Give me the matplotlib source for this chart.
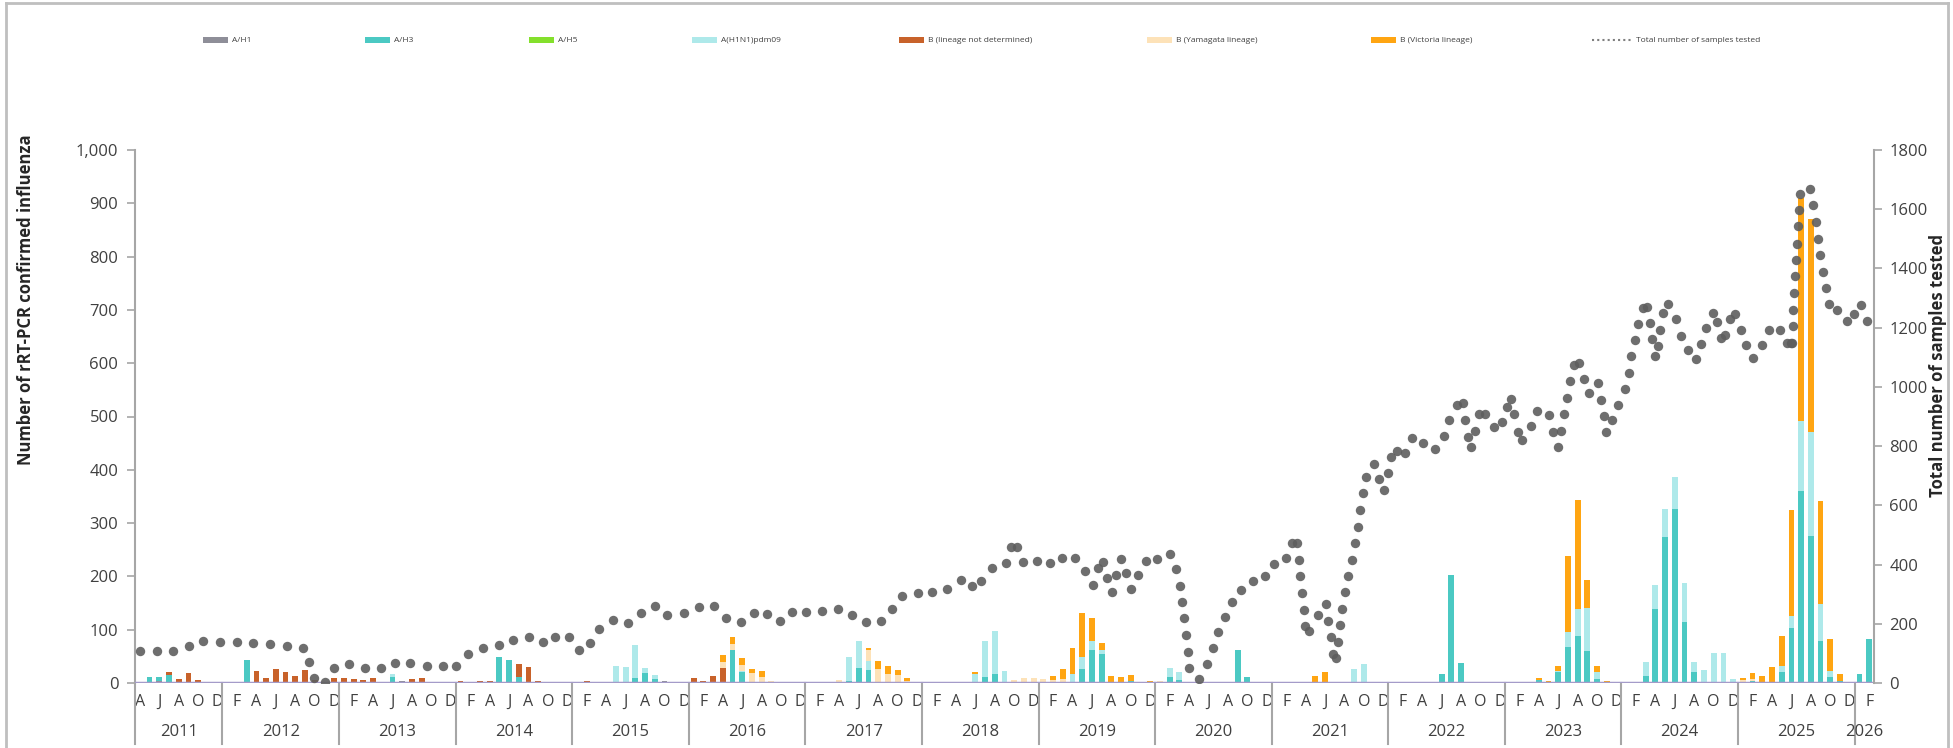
import numpy as np
import pandas as pd
import matplotlib.pyplot as plt
import matplotlib.transforms as mtransforms
from matplotlib.patches import Rectangle
from matplotlib.lines import Line2D

plt.rcParams['font.family'] = ['Open Sans', 'DejaVu Sans']

# monthly categories on the x axis
months = pd.period_range('2011-04', '2026-02', freq='M')

# confirmed influenza per month, by subtype (months not listed are 0)
a_h1 = {'2011-06': 3, '2013-07': 3, '2013-10': 1, '2013-11': 1, '2014-05': 2, '2014-06': 2,
        '2015-04': 2, '2015-10': 4}
a_h3 = {'2011-05': 12, '2011-06': 8, '2011-07': 15, '2012-03': 43, '2013-06': 12,
        '2014-05': 46, '2014-06': 41, '2014-07': 11, '2015-05': 1, '2015-07': 10, '2015-08': 18,
        '2015-09': 8, '2016-04': 2, '2016-05': 61, '2016-06': 20, '2017-05': 3, '2017-06': 28,
        '2017-07': 24, '2018-06': 1, '2018-07': 12, '2018-08': 17, '2019-05': 26, '2019-06': 62,
        '2019-07': 54, '2019-08': 2, '2019-10': 3, '2020-02': 11, '2020-03': 6, '2020-09': 62,
        '2020-10': 12, '2021-10': 1, '2022-06': 17, '2022-07': 203, '2022-08': 38,
        '2023-04': 5, '2023-06': 20, '2023-07': 68, '2023-08': 88, '2023-09': 60, '2023-10': 7,
        '2024-03': 14, '2024-04': 139, '2024-05': 274, '2024-06': 327, '2024-07': 114,
        '2024-08': 21, '2025-02': 3, '2025-04': 2, '2025-05': 21, '2025-06': 104,
        '2025-07': 360, '2025-08': 275, '2025-09': 78, '2025-10': 12, '2025-11': 3,
        '2026-01': 16, '2026-02': 83}
a_h5 = {}
a_pdm09 = {'2013-06': 5, '2015-05': 30, '2015-06': 30, '2015-07': 61, '2015-08': 11,
           '2015-09': 7, '2016-06': 3, '2017-05': 45, '2017-06': 51, '2017-07': 18,
           '2018-06': 16, '2018-07': 67, '2018-08': 81, '2018-09': 22, '2019-04': 16,
           '2019-05': 22, '2019-06': 17, '2019-07': 7, '2020-02': 18, '2020-03': 14,
           '2021-09': 27, '2021-10': 34, '2023-06': 3, '2023-07': 27, '2023-08': 50,
           '2023-09': 80, '2023-10': 14, '2024-03': 25, '2024-04': 45, '2024-05': 53,
           '2024-06': 60, '2024-07': 73, '2024-08': 18, '2024-09': 25, '2024-10': 57,
           '2024-11': 57, '2024-12': 7, '2025-05': 10, '2025-06': 21, '2025-07': 131,
           '2025-08': 195, '2025-09': 70, '2025-10': 10}
b_nd = {'2011-07': 5, '2011-08': 8, '2011-09': 18, '2011-10': 6, '2011-11': 1,
        '2012-04': 23, '2012-05': 9, '2012-06': 26, '2012-07': 21, '2012-08': 14, '2012-09': 25,
        '2012-10': 5, '2012-12': 10, '2013-01': 10, '2013-02': 8, '2013-03': 6, '2013-04': 10,
        '2013-05': 1, '2013-08': 7, '2013-09': 9, '2014-01': 4, '2014-03': 3, '2014-04': 3,
        '2014-07': 24, '2014-08': 30, '2014-09': 4, '2015-02': 4, '2016-01': 9, '2016-02': 4,
        '2016-03': 13, '2016-04': 26}
b_yam = {'2016-04': 12, '2016-05': 13, '2016-06': 10, '2016-07': 18, '2016-08': 12,
         '2016-09': 3, '2017-04': 5, '2017-07': 19, '2017-08': 27, '2017-09': 17, '2017-10': 15,
         '2017-11': 4, '2018-10': 6, '2018-11': 9, '2018-12': 9, '2019-01': 8, '2019-02': 5,
         '2019-03': 7, '2019-12': 2, '2020-01': 3, '2025-01': 5, '2025-02': 5}
b_vic = {'2016-04': 12, '2016-05': 12, '2016-06': 14, '2016-07': 8, '2016-08': 10,
         '2017-07': 5, '2017-08': 14, '2017-09': 14, '2017-10': 9, '2017-11': 6, '2018-06': 3,
         '2019-02': 9, '2019-03': 20, '2019-04': 50, '2019-05': 83, '2019-06': 43, '2019-07': 14,
         '2019-08': 12, '2019-09': 12, '2019-10': 12, '2019-12': 2, '2021-05': 14, '2021-06': 20,
         '2023-03': 2, '2023-04': 5, '2023-05': 3, '2023-06': 8, '2023-07': 143, '2023-08': 206,
         '2023-09': 54, '2023-10': 10, '2023-11': 3, '2025-01': 5, '2025-02': 10, '2025-03': 14,
         '2025-04': 28, '2025-05': 58, '2025-06': 200, '2025-07': 419, '2025-08': 400,
         '2025-09': 194, '2025-10': 61, '2025-11': 14}

# total samples tested (time in months counted from Apr 2011, right axis)
tested_t = [0.0, 1.73, 3.45, 5.09, 6.53, 8.25, 9.96, 11.68, 13.39, 15.11, 16.83, 17.41, 17.89,
            19.09, 19.95, 21.56, 23.14, 24.79, 26.23, 27.84, 29.56, 31.21, 32.58, 33.75, 35.29,
            36.94, 38.45, 40.03, 41.54, 42.70, 44.14, 45.21, 46.38,
            47.26, 48.70, 50.21, 51.58, 53.06, 54.29, 56.01, 57.52, 59.13, 60.30, 61.84, 63.25,
            64.52, 65.89, 67.16, 68.60, 70.22, 71.83, 73.27, 74.74, 76.29, 77.42, 78.48, 80.06,
            81.57, 83.05, 84.52, 85.66, 86.62, 87.75, 89.16, 89.70, 90.32, 90.90, 92.31,
            93.68, 94.89, 96.29, 97.25, 98.08, 98.59, 99.14, 99.59, 100.07, 100.51, 100.99,
            101.51, 101.99, 102.74, 103.60, 104.73, 106.00, 106.62, 107.07, 107.27, 107.44,
            107.65, 107.86, 107.99, 109.06, 109.88, 110.46, 111.01, 111.73, 112.45, 113.38,
            114.58, 115.85, 116.71, 117.98, 118.59, 119.11, 119.28, 119.45, 119.62, 119.80,
            119.90, 120.35, 121.27, 122.10, 122.33, 122.61, 122.85, 123.09, 123.33, 123.54,
            123.78, 124.02, 124.39, 124.81, 125.11, 125.35, 125.59, 125.87, 126.21, 127.07,
            127.58, 128.06, 128.44, 128.82, 129.40, 130.26, 130.95, 132.08, 133.28, 134.24, 134.79,
            135.54, 136.16, 136.44, 136.74, 137.02, 137.40, 137.88, 138.42, 139.39, 140.17,
            140.69, 141.10, 141.44, 141.82, 142.27, 143.23, 143.85, 145.05, 145.49, 145.94,
            146.32, 146.56, 146.87, 147.21, 147.62, 148.17, 148.65, 149.16, 150.06, 150.37,
            150.67, 150.95, 151.53, 152.15, 152.84, 153.25, 153.52, 153.87, 154.21, 154.69,
            155.10, 155.41, 155.68, 155.99, 156.27, 156.51, 156.82, 157.33, 158.12, 158.63,
            159.39, 160.14, 160.69, 161.24, 161.93, 162.34, 162.79, 163.16, 163.71, 164.19,
            164.78, 165.36, 166.01, 166.94, 167.69, 168.83, 169.51, 169.92, 170.06, 170.13,
            170.20, 170.30, 170.40, 170.47, 170.61, 170.71, 170.78, 170.92, 171.91, 172.26,
            172.50, 172.74, 172.94, 173.28, 173.56, 173.87, 174.73, 175.72, 176.48, 177.16, 177.75]
tested_n = [109, 109, 109, 124, 143, 139, 139, 136, 131, 124, 119, 71, 16,
            4, 52, 64, 51, 51, 67, 67, 59, 56, 56, 97, 119,
            128, 144, 157, 140, 156, 156, 113, 136,
            183, 212, 201, 235, 261, 231, 236, 257, 260, 219, 205, 237,
            233, 209, 241, 239, 243, 249, 228, 205, 208, 249, 293, 304,
            309, 319, 349, 328, 344, 387, 405, 459, 459, 407, 413,
            405, 423, 423, 377, 332, 387, 409, 355, 309, 364, 419,
            372, 319, 364, 413, 419, 437, 385, 329, 275, 219,
            163, 105, 49, 15, 65, 119, 173, 224, 275, 315,
            344, 360, 401, 421, 472, 472, 416, 360, 304, 248,
            192, 177, 228, 267, 211, 155, 99, 83, 139, 195,
            251, 307, 361, 416, 472, 528, 584, 640, 695, 741,
            688, 653, 708, 763, 783, 776, 828, 812, 789, 835, 888,
            940, 944, 889, 832, 797, 851, 908, 909, 865, 880,
            933, 960, 907, 849, 820, 867, 919, 904, 847, 796,
            851, 907, 963, 1019, 1073, 1079, 1025, 981, 1013, 957,
            903, 847, 889, 940, 992, 1048, 1104, 1159, 1212, 1267,
            1269, 1215, 1161, 1103, 1139, 1193, 1251, 1279, 1229, 1173,
            1123, 1093, 1145, 1199, 1251, 1219, 1165, 1176, 1229, 1245,
            1193, 1140, 1096, 1141, 1193, 1193, 1147, 1147, 1149, 1205,
            1260, 1317, 1373, 1429, 1484, 1543, 1599, 1653, 1667, 1613,
            1556, 1500, 1444, 1389, 1333, 1279, 1261, 1223, 1245, 1276, 1221]

series_names = ['A/H1', 'A/H3', 'A/H5', 'A(H1N1)pdm09', 'B (lineage not determined)',
                'B (Yamagata lineage)', 'B (Victoria lineage)']
series_data = [a_h1, a_h3, a_h5, a_pdm09, b_nd, b_yam, b_vic]
series_colors = ['#8e8e98', '#4bc9c3', '#84e02c', '#aee9ea', '#c8622a', '#fde2b8', '#ffa512']

W, H = 1953, 748
fig = plt.figure(figsize=(W / 100, H / 100), dpi=100)
ax = fig.add_axes([135 / W, 1 - 683 / H, (1874 - 135) / W, (683 - 150) / H])
ax2 = ax.twinx()

x = np.arange(len(months))
bottom = np.zeros(len(months))
for data, color in zip(series_data, series_colors):
    vals = np.array([data.get(str(p), 0) for p in months], dtype=float)
    ax.bar(x, vals, 0.6, bottom=bottom, color=color, linewidth=0, zorder=2)
    bottom += vals

ax.axhline(0, color='#a49bc9', lw=2.5, zorder=3)
ax2.scatter(tested_t, tested_n, s=46, color='#5e5e5e', alpha=0.9, linewidths=0, zorder=4)

ax.set_xlim(-0.5, len(months) - 0.5)
ax.set_ylim(0, 1000)
ax2.set_ylim(0, 1800)

grey = '#a6a6a6'
for s in ['top', 'bottom', 'right']:
    ax.spines[s].set_visible(False)
for s in ['top', 'bottom', 'left']:
    ax2.spines[s].set_visible(False)
ax.spines['left'].set_color(grey)
ax.spines['left'].set_linewidth(1.5)
ax2.spines['right'].set_color(grey)
ax2.spines['right'].set_linewidth(1.5)

ax.set_yticks(range(0, 1001, 100))
ax.set_yticklabels([f'{v:,}' for v in range(0, 1001, 100)])
ax2.set_yticks(range(0, 1801, 200))
ax.tick_params(axis='y', direction='out', length=6, width=1.2, color=grey, labelsize=12,
               labelcolor='#404040', pad=6)
ax2.tick_params(axis='y', direction='out', length=6, width=1.2, color=grey, labelsize=12,
                labelcolor='#404040', pad=5)

# month letters on every second month
tick_pos = x[::2]
ax.set_xticks(tick_pos)
ax.set_xticklabels([months[i].strftime('%b')[0] for i in tick_pos])
ax.tick_params(axis='x', length=0, labelsize=11.5, labelcolor='#404040', pad=8)

# year labels and separators
trans = mtransforms.blended_transform_factory(ax.transData, ax.transAxes)
years = months.year
for yr in sorted(set(years)):
    idx = np.where(years == yr)[0]
    ax.text((idx[0] + idx[-1]) / 2, -0.092, str(yr), transform=trans, ha='center', va='center',
            fontsize=12, color='#404040')
    ax.plot([idx[0] - 0.5, idx[0] - 0.5], [0, -0.115], transform=trans, color=grey, lw=1.5,
            clip_on=False)

fig.text(26 / W, 1 - 300 / H, 'Number of rRT-PCR confirmed influenza', rotation=90,
         ha='center', va='center', fontsize=12, fontweight='bold', color='#262626')
fig.text(1938 / W, 1 - 366 / H, 'Total number of samples tested', rotation=90,
         ha='center', va='center', fontsize=12, fontweight='bold', color='#262626')

# legend row
leg_x = [203, 365, 529, 692, 899, 1147, 1371]
ly = 1 - 40 / H
for lx, name, color in zip(leg_x, series_names, series_colors):
    fig.add_artist(Rectangle((lx / W, ly - 2.5 / H), 25 / W, 5 / H, transform=fig.transFigure,
                             facecolor=color, edgecolor='none'))
    fig.text((lx + 29) / W, ly, name, fontsize=6, va='center', ha='left', color='#404040')
fig.add_artist(Line2D([1592 / W, 1632 / W], [ly, ly], transform=fig.transFigure,
                      color='#7f7f7f', lw=1.5, linestyle=(0, (1, 1.5))))
fig.text(1636 / W, ly, 'Total number of samples tested', fontsize=6, va='center', ha='left',
         color='#404040')

# chart border
for xs, ys in [([6, 6], [3, H]), ([6, 1948], [3, 3]), ([1948, 1948], [3, H])]:
    fig.add_artist(Line2D([v / W for v in xs], [1 - v / H for v in ys],
                          transform=fig.transFigure, color='#bfbfbf', lw=2))

fig.savefig('out.png', dpi=100)
